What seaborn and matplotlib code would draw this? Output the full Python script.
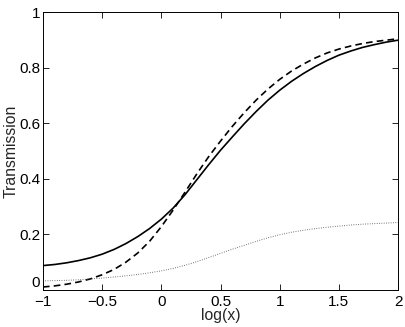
import numpy as np
import pandas as pd
import matplotlib
matplotlib.use("Agg")
import matplotlib.pyplot as plt
import seaborn as sns

log_x = [-1.0, -0.9, -0.8, -0.7, -0.6, -0.5, -0.4, -0.3, -0.2, -0.1, 0.0,
         0.1, 0.2, 0.3, 0.4, 0.5, 0.6, 0.7, 0.8, 0.9, 1.0,
         1.1, 1.2, 1.3, 1.4, 1.5, 1.6, 1.7, 1.8, 1.9, 2.0]

solid = [0.088, 0.092, 0.098, 0.106, 0.116, 0.129, 0.146, 0.167, 0.192, 0.221, 0.255,
         0.295, 0.343, 0.397, 0.451, 0.503, 0.551, 0.598, 0.642, 0.683, 0.719,
         0.751, 0.779, 0.804, 0.826, 0.845, 0.860, 0.873, 0.883, 0.892, 0.899]

dashed = [0.011, 0.015, 0.021, 0.029, 0.040, 0.055, 0.074, 0.100, 0.133, 0.175, 0.228,
          0.288, 0.352, 0.418, 0.480, 0.536, 0.589, 0.638, 0.683, 0.723, 0.758,
          0.788, 0.813, 0.835, 0.853, 0.867, 0.878, 0.887, 0.894, 0.899, 0.904]

dotted = [0.033, 0.034, 0.035, 0.037, 0.040, 0.043, 0.047, 0.051, 0.056, 0.062, 0.069,
          0.078, 0.089, 0.102, 0.117, 0.132, 0.147, 0.161, 0.175, 0.188, 0.199,
          0.208, 0.215, 0.221, 0.226, 0.230, 0.234, 0.237, 0.239, 0.241, 0.243]

x_ticks = [-1, -0.5, 0, 0.5, 1, 1.5, 2]
x_tick_labels = ["\u22121", "\u22120.5", "0", "0.5", "1", "1.5", "2"]
y_ticks = [0, 0.2, 0.4, 0.6, 0.8, 1]
y_tick_labels = ["0", "0.2", "0.4", "0.6", "0.8", "1"]

sns.set_style("ticks")
plt.rcParams['font.family'] = ['Liberation Sans', 'DejaVu Sans']

fig = plt.figure(figsize=(4.05, 3.27), dpi=100)
ax = fig.add_axes([0.106, 0.113, 0.877, 0.850])

sns.lineplot(x=log_x, y=solid, ax=ax, color="black", linewidth=1.2, linestyle="-")
sns.lineplot(x=log_x, y=dashed, ax=ax, color="black", linewidth=1.2)
ax.lines[-1].set_dashes([4.0, 2.5])
sns.lineplot(x=log_x, y=dotted, ax=ax, color="#555555", linewidth=0.7)
ax.lines[-1].set_dashes([0.8, 1.6])

ax.set_xlim(-1, 2)
ax.set_ylim(0, 1)
ax.set_xticks(x_ticks)
ax.set_xticklabels(x_tick_labels)
ax.set_yticks(y_ticks)
ax.set_yticklabels(y_tick_labels)
ax.tick_params(direction="in", length=4, width=0.6, top=True, right=True,
               labelsize=11, colors="black")
ax.tick_params(axis="x", pad=3.5)
ax.tick_params(axis="y", pad=2)
ax.get_yticklabels()[0].set_verticalalignment("bottom")
for s in ax.spines.values():
    s.set_visible(True)
    s.set_linewidth(0.7)
    s.set_color("black")
ax.set_xlabel("log(x)", fontsize=11.3, labelpad=-1)
ax.set_ylabel("Transmission", fontsize=11.3, labelpad=0)

fig.savefig("out.png", dpi=100)
